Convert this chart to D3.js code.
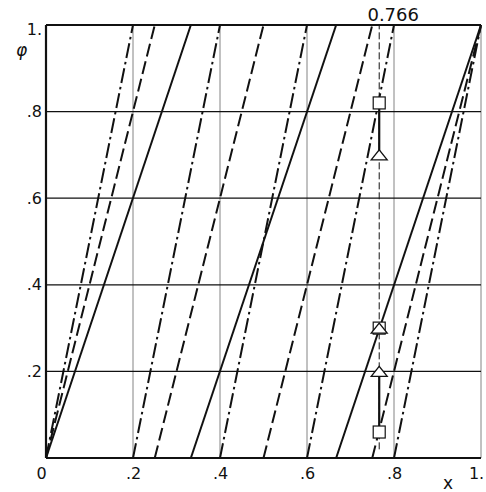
<!DOCTYPE html>
<html><head><meta charset="utf-8">
<script src="https://cdn.jsdelivr.net/npm/d3@7/dist/d3.min.js"></script>
<style>
body{margin:0;background:#fff;}
text{font-family:"DejaVu Sans",sans-serif;fill:#111;}
</style></head>
<body><svg id="c" width="486" height="492"></svg>
<script>
// tick values and labels
const xTicks = [0, 0.2, 0.4, 0.6, 0.8, 1];
const xTickLabels = ["0", ".2", ".4", ".6", ".8", "1."];
const yTicks = [0.2, 0.4, 0.6, 0.8, 1];
const yTickLabels = [".2", ".4", ".6", ".8", "1."];
// line families: start x at φ=0, end x at φ=1
const solidLines = [[0, 0.333], [0.333, 0.667], [0.667, 1]];
const dashedLines = [[0, 0.25], [0.25, 0.5], [0.5, 0.75], [0.75, 1]];
const dashDotLines = [[0, 0.2], [0.2, 0.4], [0.4, 0.6], [0.6, 0.8], [0.8, 1]];
// vertical marker line
const markX = 0.766;
const markLabel = "0.766";
const squarePhi = [0.82, 0.30, 0.06];
const trianglePhi = [0.70, 0.30, 0.20];
const connectors = [[0.82, 0.70], [0.20, 0.06]];

const svg = d3.select("#c");
const x = d3.scaleLinear([0, 1], [46, 481]);
const y = d3.scaleLinear([0, 1], [458, 25]);

// vertical grid (thin)
svg.append("g").selectAll("line").data([0.2, 0.4, 0.6, 0.8, 1]).join("line")
  .attr("x1", d => x(d)).attr("x2", d => x(d)).attr("y1", y(0)).attr("y2", y(1))
  .attr("stroke", "#666").attr("stroke-width", 0.8);
// horizontal grid (black)
svg.append("g").selectAll("line").data([0.2, 0.4, 0.6, 0.8]).join("line")
  .attr("x1", x(0)).attr("x2", x(1)).attr("y1", d => y(d)).attr("y2", d => y(d))
  .attr("stroke", "#111").attr("stroke-width", 1.2);

// frame
svg.append("line").attr("x1", x(0)).attr("x2", x(1)).attr("y1", y(1)).attr("y2", y(1)).attr("stroke", "#111").attr("stroke-width", 2.2);
svg.append("line").attr("x1", x(0)).attr("x2", x(1)).attr("y1", y(0)).attr("y2", y(0)).attr("stroke", "#111").attr("stroke-width", 2.2);
svg.append("line").attr("x1", x(0)).attr("x2", x(0)).attr("y1", y(0)).attr("y2", y(1)).attr("stroke", "#111").attr("stroke-width", 2.2);

function family(data, dash, w) {
  svg.append("g").selectAll("line").data(data).join("line")
    .attr("x1", d => x(d[0])).attr("y1", y(0))
    .attr("x2", d => x(d[1])).attr("y2", y(1))
    .attr("stroke", "#111").attr("stroke-width", w)
    .attr("stroke-dasharray", dash);
}
family(solidLines, null, 2);
family(dashedLines, "13,5", 2);
family(dashDotLines, "15,4,2.5,4", 2);

// vertical dashed marker line
svg.append("line").attr("x1", x(markX)).attr("x2", x(markX)).attr("y1", y(0.02)).attr("y2", y(1))
  .attr("stroke", "#111").attr("stroke-width", 1).attr("stroke-dasharray", "7,3");
svg.append("text").attr("x", x(markX) + 14).attr("y", 21).attr("text-anchor", "middle")
  .attr("font-size", 18).text(markLabel);

// connectors
svg.append("g").selectAll("line").data(connectors).join("line")
  .attr("x1", x(markX)).attr("x2", x(markX)).attr("y1", d => y(d[0])).attr("y2", d => y(d[1]))
  .attr("stroke", "#111").attr("stroke-width", 2.2);

// squares
svg.append("g").selectAll("rect").data(squarePhi).join("rect")
  .attr("x", x(markX) - 6).attr("y", d => y(d) - 6).attr("width", 12).attr("height", 12)
  .attr("fill", "#fff").attr("stroke", "#111").attr("stroke-width", 1.2);
// triangles
svg.append("g").selectAll("path").data(trianglePhi).join("path")
  .attr("d", d => { const cx = x(markX), cy = y(d); return `M${cx - 8},${cy + 5}L${cx + 8},${cy + 5}L${cx},${cy - 5}Z`; })
  .attr("fill", "#fff").attr("stroke", "#111").attr("stroke-width", 1.3);

// axes (labels only)
const xAxis = d3.axisBottom(x).tickValues(xTicks).tickSize(0).tickPadding(10)
  .tickFormat((d, i) => xTickLabels[i]);
const gx = svg.append("g").attr("transform", `translate(0,${y(0)})`).call(xAxis);
gx.select(".domain").remove();
gx.selectAll("text").attr("font-size", 16).style("font-family", '"DejaVu Sans",sans-serif').attr("fill", "#111");
gx.selectAll(".tick").filter(d => d === 0).select("text").attr("dx", -5);
gx.selectAll(".tick").filter(d => d === 1).select("text").attr("dx", -5);

const yAxis = d3.axisLeft(y).tickValues(yTicks).tickSize(0).tickPadding(4)
  .tickFormat((d, i) => yTickLabels[i]);
const gy = svg.append("g").attr("transform", `translate(${x(0)},0)`).call(yAxis);
gy.select(".domain").remove();
gy.selectAll("text").attr("font-size", 16).style("font-family", '"DejaVu Sans",sans-serif').attr("fill", "#111");
gy.selectAll(".tick").filter(d => d === 1).select("text").attr("dy", "0.6em");

svg.append("text").attr("x", 16).attr("y", 56).attr("font-size", 17).attr("font-style", "italic").text("φ");
svg.append("text").attr("x", 443).attr("y", 489).attr("font-size", 17).text("x");
</script></body></html>
